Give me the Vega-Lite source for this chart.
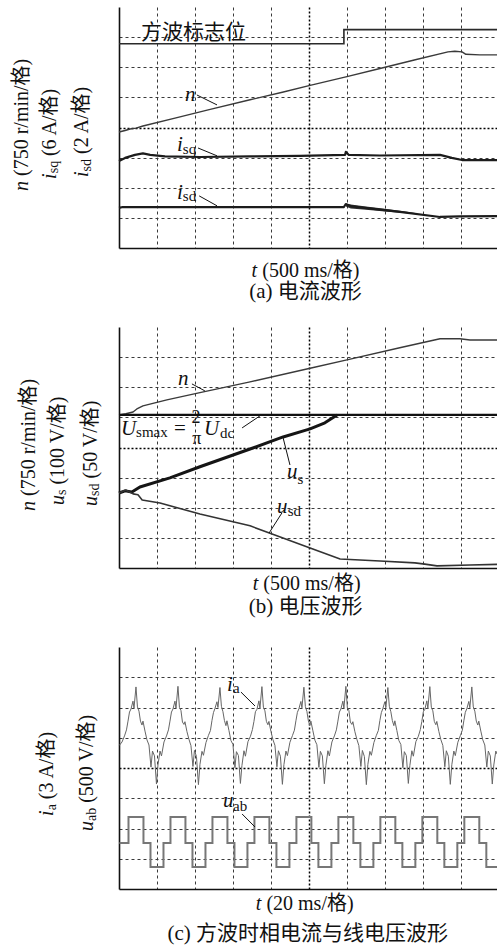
{
  "$schema": "https://vega.github.io/schema/vega-lite/v6.json",
  "padding": {"left": 12, "top": 7, "right": 0, "bottom": 0},
  "config": {"view": {"stroke": null}},
  "spacing": 79,
  "bounds": "flush",
  "datasets": {
    "p1": [
      {"k":"n1","x":0,"y":3.85},{"k":"n1","x":0.16,"y":3.9},{"k":"n1","x":0.29,"y":3.95},{"k":"n1","x":0.45,"y":3.98},{"k":"n1","x":0.63,"y":4.05},{"k":"n1","x":1.5,"y":4.32},{"k":"n1","x":2.4,"y":4.6},{"k":"n1","x":3.45,"y":4.92},{"k":"n1","x":4.3,"y":5.17},{"k":"n1","x":5.03,"y":5.4},{"k":"n1","x":6.0,"y":5.69},{"k":"n1","x":6.87,"y":5.96},{"k":"n1","x":7.8,"y":6.25},{"k":"n1","x":8.66,"y":6.51},{"k":"n1","x":8.84,"y":6.53},{"k":"n1","x":9.03,"y":6.51},{"k":"n1","x":9.13,"y":6.43},{"k":"n1","x":9.5,"y":6.41},{"k":"n1","x":9.95,"y":6.41},
      {"k":"isq","x":0,"y":2.89},{"k":"isq","x":0.16,"y":2.99},{"k":"isq","x":0.42,"y":3.09},{"k":"isq","x":0.63,"y":3.14},{"k":"isq","x":0.82,"y":3.09},{"k":"isq","x":1.21,"y":3.04},{"k":"isq","x":2.13,"y":3.02},{"k":"isq","x":3.45,"y":3.04},{"k":"isq","x":4.76,"y":3.06},{"k":"isq","x":5.95,"y":3.09},{"k":"isq","x":5.97,"y":3.19},{"k":"isq","x":6.05,"y":3.09},{"k":"isq","x":6.87,"y":3.07},{"k":"isq","x":8.45,"y":3.09},{"k":"isq","x":8.76,"y":2.99},{"k":"isq","x":9.03,"y":2.92},{"k":"isq","x":9.95,"y":2.92},
      {"k":"isd","x":0,"y":1.33},{"k":"isd","x":0.1,"y":1.36},{"k":"isd","x":2.13,"y":1.36},{"k":"isd","x":5.92,"y":1.36},{"k":"isd","x":5.97,"y":1.46},{"k":"isd","x":6.13,"y":1.38},{"k":"isd","x":7.39,"y":1.2},{"k":"isd","x":8.45,"y":1.03},{"k":"isd","x":8.97,"y":1.05},{"k":"isd","x":9.95,"y":1.06}
    ],
    "isdband": [
      {"x":5.97,"y":1.47,"y2":1.38},{"x":6.1,"y":1.44,"y2":1.31},{"x":6.5,"y":1.38,"y2":1.27},{"x":7.0,"y":1.3,"y2":1.21},{"x":7.5,"y":1.22,"y2":1.16},{"x":7.8,"y":1.16,"y2":1.13}
    ],
    "flag": [{"x":0,"y":6.78},{"x":5.92,"y":7.25},{"x":9.95,"y":7.25}],
    "p2": [
      {"k":"n2","x":0,"y":5.08},{"k":"n2","x":0.18,"y":5.12},{"k":"n2","x":0.37,"y":5.18},{"k":"n2","x":0.47,"y":5.28},{"k":"n2","x":0.63,"y":5.38},{"k":"n2","x":1.26,"y":5.58},{"k":"n2","x":2.13,"y":5.82},{"k":"n2","x":3.45,"y":6.18},{"k":"n2","x":5.03,"y":6.63},{"k":"n2","x":6.0,"y":6.91},{"k":"n2","x":7.39,"y":7.31},{"k":"n2","x":8.45,"y":7.61},{"k":"n2","x":8.97,"y":7.61},{"k":"n2","x":9.24,"y":7.57},{"k":"n2","x":9.95,"y":7.57},
      {"k":"usmax","x":0,"y":5.08},{"k":"usmax","x":9.95,"y":5.08},
      {"k":"us","x":0,"y":2.49},{"k":"us","x":0.16,"y":2.56},{"k":"us","x":0.34,"y":2.52},{"k":"us","x":0.55,"y":2.69},{"k":"us","x":1.34,"y":2.99},{"k":"us","x":2.13,"y":3.36},{"k":"us","x":3.45,"y":3.95},{"k":"us","x":4.32,"y":4.35},{"k":"us","x":5.03,"y":4.62},{"k":"us","x":5.42,"y":4.82},{"k":"us","x":5.74,"y":5.08},
      {"k":"usd","x":0,"y":2.49},{"k":"usd","x":0.18,"y":2.59},{"k":"usd","x":0.37,"y":2.46},{"k":"usd","x":0.5,"y":2.43},{"k":"usd","x":0.61,"y":2.26},{"k":"usd","x":1.08,"y":2.16},{"k":"usd","x":2.13,"y":1.79},{"k":"usd","x":3.45,"y":1.4},{"k":"usd","x":4.03,"y":1.13},{"k":"usd","x":5.03,"y":0.66},{"k":"usd","x":5.82,"y":0.3},{"k":"usd","x":6.87,"y":0.23},{"k":"usd","x":7.79,"y":0.17},{"k":"usd","x":8.05,"y":0.13},{"k":"usd","x":8.37,"y":0.07},{"k":"usd","x":9.24,"y":0.1},{"k":"usd","x":9.95,"y":0.12}
    ],
    "ia": [
      {"x":0.01,"y":4.75},{"x":0.079,"y":4.86},{"x":0.145,"y":5.06},{"x":0.197,"y":5.26},{"x":0.237,"y":5.55},{"x":0.276,"y":5.85},{"x":0.316,"y":5.95},{"x":0.368,"y":6.21},{"x":0.395,"y":5.98},
      {"x":0.447,"y":6.68},{"x":0.486,"y":6.02},{"x":0.526,"y":5.88},{"x":0.565,"y":5.55},{"x":0.605,"y":5.42},{"x":0.631,"y":5.55},{"x":0.684,"y":5.22},{"x":0.736,"y":4.93},{"x":0.789,"y":4.76},{"x":0.842,"y":4.03},{"x":0.881,"y":4.56},{"x":0.934,"y":4.4},{"x":0.986,"y":3.47},{"x":1.026,"y":4.1},{"x":1.079,"y":4.56},{"x":1.118,"y":4.4},{"x":1.184,"y":4.86},{"x":1.25,"y":5.06},{"x":1.302,"y":5.26},{"x":1.342,"y":5.55},{"x":1.381,"y":5.85},{"x":1.421,"y":5.95},{"x":1.473,"y":6.21},{"x":1.5,"y":5.98},
      {"x":1.552,"y":6.7},{"x":1.591,"y":6.0},{"x":1.631,"y":5.9},{"x":1.67,"y":5.52},{"x":1.71,"y":5.44},{"x":1.736,"y":5.53},{"x":1.789,"y":5.2},{"x":1.841,"y":4.95},{"x":1.894,"y":4.74},{"x":1.947,"y":4.05},{"x":1.986,"y":4.58},{"x":2.039,"y":4.38},{"x":2.091,"y":3.45},{"x":2.131,"y":4.12},{"x":2.184,"y":4.55},{"x":2.223,"y":4.42},{"x":2.289,"y":4.84},{"x":2.355,"y":5.08},{"x":2.407,"y":5.24},{"x":2.447,"y":5.57},{"x":2.486,"y":5.83},{"x":2.526,"y":5.97},{"x":2.578,"y":6.19},{"x":2.605,"y":6.0},
      {"x":2.657,"y":6.66},{"x":2.696,"y":6.04},{"x":2.736,"y":5.86},{"x":2.775,"y":5.57},{"x":2.815,"y":5.4},{"x":2.841,"y":5.56},{"x":2.894,"y":5.24},{"x":2.946,"y":4.91},{"x":2.999,"y":4.78},{"x":3.052,"y":4.01},{"x":3.091,"y":4.54},{"x":3.144,"y":4.41},{"x":3.196,"y":3.49},{"x":3.236,"y":4.08},{"x":3.289,"y":4.57},{"x":3.328,"y":4.39},{"x":3.394,"y":4.87},{"x":3.46,"y":5.05},{"x":3.512,"y":5.27},{"x":3.552,"y":5.54},{"x":3.591,"y":5.86},{"x":3.631,"y":5.94},{"x":3.683,"y":6.22},{"x":3.71,"y":5.97},
      {"x":3.762,"y":6.69},{"x":3.801,"y":6.01},{"x":3.841,"y":5.89},{"x":3.88,"y":5.54},{"x":3.92,"y":5.43},{"x":3.946,"y":5.54},{"x":3.999,"y":5.21},{"x":4.051,"y":4.94},{"x":4.104,"y":4.75},{"x":4.157,"y":4.04},{"x":4.196,"y":4.57},{"x":4.249,"y":4.39},{"x":4.301,"y":3.46},{"x":4.341,"y":4.11},{"x":4.394,"y":4.56},{"x":4.433,"y":4.41},{"x":4.499,"y":4.85},{"x":4.565,"y":5.07},{"x":4.617,"y":5.25},{"x":4.657,"y":5.56},{"x":4.696,"y":5.84},{"x":4.736,"y":5.96},{"x":4.788,"y":6.2},{"x":4.815,"y":5.99},
      {"x":4.867,"y":6.67},{"x":4.906,"y":6.03},{"x":4.946,"y":5.87},{"x":4.985,"y":5.56},{"x":5.025,"y":5.41},{"x":5.051,"y":5.55},{"x":5.104,"y":5.23},{"x":5.156,"y":4.92},{"x":5.209,"y":4.77},{"x":5.262,"y":4.02},{"x":5.301,"y":4.55},{"x":5.354,"y":4.4},{"x":5.406,"y":3.48},{"x":5.446,"y":4.09},{"x":5.499,"y":4.57},{"x":5.538,"y":4.4},{"x":5.604,"y":4.86},{"x":5.67,"y":5.06},{"x":5.722,"y":5.26},{"x":5.762,"y":5.55},{"x":5.801,"y":5.85},{"x":5.841,"y":5.95},{"x":5.893,"y":6.21},{"x":5.92,"y":5.98},
      {"x":5.972,"y":6.7},{"x":6.011,"y":6.0},{"x":6.051,"y":5.9},{"x":6.09,"y":5.52},{"x":6.13,"y":5.44},{"x":6.156,"y":5.53},{"x":6.209,"y":5.2},{"x":6.261,"y":4.95},{"x":6.314,"y":4.74},{"x":6.367,"y":4.05},{"x":6.406,"y":4.58},{"x":6.459,"y":4.38},{"x":6.511,"y":3.45},{"x":6.551,"y":4.12},{"x":6.604,"y":4.55},{"x":6.643,"y":4.42},{"x":6.709,"y":4.84},{"x":6.775,"y":5.08},{"x":6.827,"y":5.24},{"x":6.867,"y":5.57},{"x":6.906,"y":5.83},{"x":6.946,"y":5.97},{"x":6.998,"y":6.19},{"x":7.025,"y":6.0},
      {"x":7.077,"y":6.66},{"x":7.116,"y":6.04},{"x":7.156,"y":5.86},{"x":7.195,"y":5.57},{"x":7.235,"y":5.4},{"x":7.261,"y":5.56},{"x":7.314,"y":5.24},{"x":7.366,"y":4.91},{"x":7.419,"y":4.78},{"x":7.472,"y":4.01},{"x":7.511,"y":4.54},{"x":7.564,"y":4.41},{"x":7.616,"y":3.49},{"x":7.656,"y":4.08},{"x":7.709,"y":4.57},{"x":7.748,"y":4.39},{"x":7.814,"y":4.87},{"x":7.88,"y":5.05},{"x":7.932,"y":5.27},{"x":7.972,"y":5.54},{"x":8.011,"y":5.86},{"x":8.051,"y":5.94},{"x":8.103,"y":6.22},{"x":8.13,"y":5.97},
      {"x":8.182,"y":6.69},{"x":8.221,"y":6.01},{"x":8.261,"y":5.89},{"x":8.3,"y":5.54},{"x":8.34,"y":5.43},{"x":8.366,"y":5.54},{"x":8.419,"y":5.21},{"x":8.471,"y":4.94},{"x":8.524,"y":4.75},{"x":8.577,"y":4.04},{"x":8.616,"y":4.57},{"x":8.669,"y":4.39},{"x":8.721,"y":3.46},{"x":8.761,"y":4.11},{"x":8.814,"y":4.56},{"x":8.853,"y":4.41},{"x":8.919,"y":4.85},{"x":8.985,"y":5.07},{"x":9.037,"y":5.25},{"x":9.077,"y":5.56},{"x":9.116,"y":5.84},{"x":9.156,"y":5.96},{"x":9.208,"y":6.2},{"x":9.235,"y":5.99},
      {"x":9.287,"y":6.68},{"x":9.326,"y":6.02},{"x":9.366,"y":5.88},{"x":9.405,"y":5.55},{"x":9.445,"y":5.42},{"x":9.471,"y":5.55},{"x":9.524,"y":5.22},{"x":9.576,"y":4.93},{"x":9.629,"y":4.76},{"x":9.682,"y":4.03},{"x":9.721,"y":4.56},{"x":9.774,"y":4.4},{"x":9.826,"y":3.47},{"x":9.866,"y":4.1},{"x":9.919,"y":4.56},{"x":9.95,"y":4.46}
    ],
    "uab": [
      {"x":0.01,"y":1.52},
      {"x":0.25,"y":2.38},{"x":0.644,"y":1.52},{"x":0.829,"y":0.73},{"x":1.171,"y":1.52},
      {"x":1.355,"y":2.38},{"x":1.749,"y":1.52},{"x":1.934,"y":0.73},{"x":2.276,"y":1.52},
      {"x":2.46,"y":2.38},{"x":2.854,"y":1.52},{"x":3.039,"y":0.73},{"x":3.381,"y":1.52},
      {"x":3.565,"y":2.38},{"x":3.959,"y":1.52},{"x":4.144,"y":0.73},{"x":4.486,"y":1.52},
      {"x":4.67,"y":2.38},{"x":5.064,"y":1.52},{"x":5.249,"y":0.73},{"x":5.591,"y":1.52},
      {"x":5.775,"y":2.38},{"x":6.169,"y":1.52},{"x":6.354,"y":0.73},{"x":6.696,"y":1.52},
      {"x":6.88,"y":2.38},{"x":7.274,"y":1.52},{"x":7.459,"y":0.73},{"x":7.801,"y":1.52},
      {"x":7.985,"y":2.38},{"x":8.379,"y":1.52},{"x":8.564,"y":0.73},{"x":8.906,"y":1.52},
      {"x":9.09,"y":2.38},{"x":9.484,"y":1.52},{"x":9.669,"y":0.73},{"x":9.95,"y":0.73}
    ],
    "leaders": [
      {"p":1,"x":2.05,"y":5.08,"x2":2.58,"y2":4.75},
      {"p":1,"x":2.08,"y":3.32,"x2":2.58,"y2":3.06},
      {"p":1,"x":2.11,"y":1.73,"x2":2.58,"y2":1.4},
      {"p":2,"x":1.92,"y":6.11,"x2":2.26,"y2":5.88},
      {"p":2,"x":3.24,"y":4.65,"x2":3.71,"y2":5.05},
      {"p":2,"x":4.5,"y":3.42,"x2":4.32,"y2":4.32},
      {"p":2,"x":4.29,"y":1.83,"x2":3.95,"y2":1.16},
      {"p":3,"x":3.21,"y":6.51,"x2":3.58,"y2":6.05},
      {"p":3,"x":3.24,"y":2.48,"x2":3.58,"y2":2.05}
    ],
    "it": [
      {"p":1,"x":1.74,"y":4.88,"s":"n"},
      {"p":1,"x":1.53,"y":3.22,"s":"i"},
      {"p":1,"x":1.53,"y":1.63,"s":"i"},
      {"p":2,"x":1.55,"y":6.08,"s":"n"},
      {"p":2,"x":0.05,"y":4.42,"s":"U"},
      {"p":2,"x":2.24,"y":4.42,"s":"U"},
      {"p":2,"x":4.42,"y":2.99,"s":"u"},
      {"p":2,"x":4.16,"y":1.83,"s":"u"},
      {"p":3,"x":2.84,"y":6.55,"s":"i"},
      {"p":3,"x":2.74,"y":2.71,"s":"u"}
    ],
    "sub": [
      {"p":1,"x":1.68,"y":3.12,"s":"sq"},
      {"p":1,"x":1.68,"y":1.56,"s":"sd"},
      {"p":2,"x":0.45,"y":4.35,"s":"smax"},
      {"p":2,"x":2.66,"y":4.33,"s":"dc"},
      {"p":2,"x":4.7,"y":2.79,"s":"s"},
      {"p":2,"x":4.44,"y":1.73,"s":"sd"},
      {"p":3,"x":3.0,"y":6.48,"s":"a"},
      {"p":3,"x":3.0,"y":2.58,"s":"ab"}
    ],
    "rm": [
      {"p":1,"x":0.58,"y":6.93,"s":"方波标志位"},
      {"p":2,"x":1.45,"y":4.42,"s":"="}
    ],
    "frac": [
      {"p":2,"x":1.91,"y":4.82,"s":"2"},
      {"p":2,"x":1.93,"y":4.12,"s":"π"}
    ],
    "cap": [
      {"p":1,"x":4.91,"y":-1.45,"s":"(a) 电流波形"},
      {"p":2,"x":4.91,"y":-1.3,"s":"(b) 电压波形"},
      {"p":3,"x":4.97,"y":-1.49,"s":"(c) 方波时相电流与线电压波形"}
    ],
    "xit": [
      {"p":1,"x":3.49,"y":-0.76,"s":"t"},
      {"p":2,"x":3.52,"y":-0.52,"s":"t"},
      {"p":3,"x":3.6,"y":-0.5,"s":"t"}
    ],
    "xrm": [
      {"p":1,"x":3.77,"y":-0.76,"s":"(500 ms/格)"},
      {"p":2,"x":3.8,"y":-0.52,"s":"(500 ms/格)"},
      {"p":3,"x":3.88,"y":-0.5,"s":"(20 ms/格)"}
    ],
    "yit": [
      {"p":1,"x":-2.55,"y":1.89,"s":"n"},
      {"p":1,"x":-1.82,"y":2.29,"s":"i"},
      {"p":1,"x":-0.97,"y":2.36,"s":"i"},
      {"p":2,"x":-2.37,"y":1.89,"s":"n"},
      {"p":2,"x":-1.61,"y":2.09,"s":"u"},
      {"p":2,"x":-0.74,"y":2.06,"s":"u"},
      {"p":3,"x":-1.89,"y":2.41,"s":"i"},
      {"p":3,"x":-0.84,"y":1.92,"s":"u"}
    ],
    "ysub": [
      {"p":1,"x":-1.7,"y":2.48,"s":"sq"},
      {"p":1,"x":-0.85,"y":2.54,"s":"sd"},
      {"p":2,"x":-1.49,"y":2.42,"s":"s"},
      {"p":2,"x":-0.62,"y":2.39,"s":"sd"},
      {"p":3,"x":-1.77,"y":2.6,"s":"a"},
      {"p":3,"x":-0.72,"y":2.25,"s":"ab"}
    ],
    "yrm": [
      {"p":1,"x":-2.55,"y":2.39,"s":"(750 r/min/格)"},
      {"p":1,"x":-1.82,"y":3.05,"s":"(6 A/格)"},
      {"p":1,"x":-0.97,"y":3.12,"s":"(2 A/格)"},
      {"p":2,"x":-2.37,"y":2.39,"s":"(750 r/min/格)"},
      {"p":2,"x":-1.61,"y":2.77,"s":"(100 V/格)"},
      {"p":2,"x":-0.74,"y":2.97,"s":"(50 V/格)"},
      {"p":3,"x":-1.89,"y":2.97,"s":"(3 A/格)"},
      {"p":3,"x":-0.84,"y":2.85,"s":"(500 V/格)"}
    ]
  },
  "vconcat": [
    {
      "width": 378,
      "height": 241,
      "encoding": {
        "x": {"field":"x","type":"quantitative","scale":{"domain":[0,9.95],"nice":false,"zero":false},
          "axis":{"values":[1,2,3,4,5,6,7,8,9],"grid":true,"labels":false,"ticks":false,"title":null,"domainColor":"#111111","domainWidth":1.6,
            "gridColor":{"condition":{"test":"datum.value === 5","value":"#000000"},"value":"#3a3a3a"},
            "gridDash":{"condition":{"test":"datum.value === 5","value":[2,2]},"value":[3,3]},
            "gridWidth":{"condition":{"test":"datum.value === 5","value":1.5},"value":1}}},
        "y": {"field":"y","type":"quantitative","scale":{"domain":[0,8],"nice":false,"zero":false},
          "axis":{"values":[1,2,3,4,5,6,7],"grid":true,"labels":false,"ticks":false,"title":null,"domainColor":"#111111","domainWidth":1.6,
            "gridColor":{"condition":{"test":"datum.value === 4","value":"#000000"},"value":"#3a3a3a"},
            "gridDash":{"condition":{"test":"datum.value === 4","value":[2,2]},"value":[3,3]},
            "gridWidth":{"condition":{"test":"datum.value === 4","value":1.5},"value":1}}}
      },
      "layer": [
        {"data":{"values":[{}]},"mark":{"type":"rule","color":"#111111","strokeWidth":1.6},"encoding":{"x":{"datum":0},"x2":{"datum":9.95},"y":{"datum":8}}},
        {"data":{"name":"flag"},"mark":{"type":"line","interpolate":"step-after","color":"#2a2a2a","strokeWidth":1.6},"encoding":{}},
        {"data":{"name":"isdband"},"mark":{"type":"area","color":"#1c1c1c","opacity":0.9},"encoding":{"y2":{"field":"y2"}}},
        {"data":{"name":"p1"},"mark":{"type":"line","strokeJoin":"round"},"encoding":{
          "color":{"field":"k","type":"nominal","scale":{"domain":["n1","isq","isd","n2","usmax","us","usd"],"range":["#3a3a3a","#1c1c1c","#1c1c1c","#3a3a3a","#111111","#151515","#333333"]},"legend":null},
          "strokeWidth":{"field":"k","type":"nominal","scale":{"type":"ordinal","domain":["n1","isq","isd","n2","usmax","us","usd"],"range":[1.4,2.2,2.2,1.4,2.2,3.0,1.6]},"legend":null}}},
        {"data":{"name":"leaders"},"transform":[{"filter":"datum.p === 1"}],"mark":{"type":"rule","color":"#111111","strokeWidth":1},"encoding":{"x2":{"field":"x2"},"y2":{"field":"y2"}}},
        {"data":{"name":"it"},"transform":[{"filter":"datum.p === 1"}],"mark":{"type":"text","font":"Liberation Serif","fontStyle":"italic","fontSize":21,"align":"left","baseline":"alphabetic","color":"#111111"},"encoding":{"text":{"field":"s"}}},
        {"data":{"name":"sub"},"transform":[{"filter":"datum.p === 1"}],"mark":{"type":"text","font":"Liberation Serif","fontSize":15,"align":"left","baseline":"alphabetic","color":"#111111"},"encoding":{"text":{"field":"s"}}},
        {"data":{"name":"rm"},"transform":[{"filter":"datum.p === 1"}],"mark":{"type":"text","font":"Liberation Serif, Noto Sans CJK SC","fontSize":21,"align":"left","baseline":"alphabetic","color":"#111111"},"encoding":{"text":{"field":"s"}}},
        {"data":{"name":"cap"},"transform":[{"filter":"datum.p === 1"}],"mark":{"type":"text","font":"Liberation Serif, Noto Sans CJK SC","fontSize":21,"align":"center","baseline":"middle","color":"#111111"},"encoding":{"text":{"field":"s"}}},
        {"data":{"name":"xit"},"transform":[{"filter":"datum.p === 1"}],"mark":{"type":"text","font":"Liberation Serif","fontStyle":"italic","fontSize":20,"align":"left","baseline":"middle","color":"#111111"},"encoding":{"text":{"field":"s"}}},
        {"data":{"name":"xrm"},"transform":[{"filter":"datum.p === 1"}],"mark":{"type":"text","font":"Liberation Serif, Noto Sans CJK SC","fontSize":20,"align":"left","baseline":"middle","color":"#111111"},"encoding":{"text":{"field":"s"}}},
        {"data":{"name":"yit"},"transform":[{"filter":"datum.p === 1"}],"mark":{"type":"text","font":"Liberation Serif","fontStyle":"italic","fontSize":20,"angle":270,"align":"left","baseline":"middle","color":"#111111"},"encoding":{"text":{"field":"s"}}},
        {"data":{"name":"ysub"},"transform":[{"filter":"datum.p === 1"}],"mark":{"type":"text","font":"Liberation Serif","fontSize":14,"angle":270,"align":"left","baseline":"middle","color":"#111111"},"encoding":{"text":{"field":"s"}}},
        {"data":{"name":"yrm"},"transform":[{"filter":"datum.p === 1"}],"mark":{"type":"text","font":"Liberation Serif, Noto Sans CJK SC","fontSize":20,"angle":270,"align":"left","baseline":"middle","color":"#111111"},"encoding":{"text":{"field":"s"}}}
      ]
    },
    {
      "width": 378,
      "height": 241,
      "encoding": {
        "x": {"field":"x","type":"quantitative","scale":{"domain":[0,9.95],"nice":false,"zero":false},
          "axis":{"values":[1,2,3,4,5,6,7,8,9],"grid":true,"labels":false,"ticks":false,"title":null,"domainColor":"#111111","domainWidth":1.6,
            "gridColor":{"condition":{"test":"datum.value === 5","value":"#000000"},"value":"#3a3a3a"},
            "gridDash":{"condition":{"test":"datum.value === 5","value":[2,2]},"value":[3,3]},
            "gridWidth":{"condition":{"test":"datum.value === 5","value":1.5},"value":1}}},
        "y": {"field":"y","type":"quantitative","scale":{"domain":[0,8],"nice":false,"zero":false},
          "axis":{"values":[1,2,3,4,5,6,7],"grid":true,"labels":false,"ticks":false,"title":null,"domainColor":"#111111","domainWidth":1.6,
            "gridColor":{"condition":{"test":"datum.value === 4","value":"#000000"},"value":"#3a3a3a"},
            "gridDash":{"condition":{"test":"datum.value === 4","value":[2,2]},"value":[3,3]},
            "gridWidth":{"condition":{"test":"datum.value === 4","value":1.5},"value":1}}}
      },
      "layer": [
        {"data":{"values":[{}]},"mark":{"type":"rule","color":"#111111","strokeWidth":1.6},"encoding":{"x":{"datum":0},"x2":{"datum":9.95},"y":{"datum":8}}},
        {"data":{"name":"p2"},"mark":{"type":"line","strokeJoin":"round"},"encoding":{
          "color":{"field":"k","type":"nominal","scale":{"domain":["n1","isq","isd","n2","usmax","us","usd"],"range":["#3a3a3a","#1c1c1c","#1c1c1c","#3a3a3a","#111111","#151515","#333333"]},"legend":null},
          "strokeWidth":{"field":"k","type":"nominal","scale":{"type":"ordinal","domain":["n1","isq","isd","n2","usmax","us","usd"],"range":[1.4,2.2,2.2,1.4,2.2,3.0,1.6]},"legend":null}}},
        {"data":{"name":"leaders"},"transform":[{"filter":"datum.p === 2"}],"mark":{"type":"rule","color":"#111111","strokeWidth":1},"encoding":{"x2":{"field":"x2"},"y2":{"field":"y2"}}},
        {"data":{"name":"it"},"transform":[{"filter":"datum.p === 2"}],"mark":{"type":"text","font":"Liberation Serif","fontStyle":"italic","fontSize":21,"align":"left","baseline":"alphabetic","color":"#111111"},"encoding":{"text":{"field":"s"}}},
        {"data":{"name":"sub"},"transform":[{"filter":"datum.p === 2"}],"mark":{"type":"text","font":"Liberation Serif","fontSize":15,"align":"left","baseline":"alphabetic","color":"#111111"},"encoding":{"text":{"field":"s"}}},
        {"data":{"name":"rm"},"transform":[{"filter":"datum.p === 2"}],"mark":{"type":"text","font":"Liberation Serif, Noto Sans CJK SC","fontSize":21,"align":"left","baseline":"alphabetic","color":"#111111"},"encoding":{"text":{"field":"s"}}},
        {"data":{"name":"frac"},"transform":[{"filter":"datum.p === 2"}],"mark":{"type":"text","font":"Liberation Serif","fontSize":18,"align":"left","baseline":"alphabetic","color":"#111111"},"encoding":{"text":{"field":"s"}}},
        {"data":{"name":"cap"},"transform":[{"filter":"datum.p === 2"}],"mark":{"type":"text","font":"Liberation Serif, Noto Sans CJK SC","fontSize":21,"align":"center","baseline":"middle","color":"#111111"},"encoding":{"text":{"field":"s"}}},
        {"data":{"name":"xit"},"transform":[{"filter":"datum.p === 2"}],"mark":{"type":"text","font":"Liberation Serif","fontStyle":"italic","fontSize":20,"align":"left","baseline":"middle","color":"#111111"},"encoding":{"text":{"field":"s"}}},
        {"data":{"name":"xrm"},"transform":[{"filter":"datum.p === 2"}],"mark":{"type":"text","font":"Liberation Serif, Noto Sans CJK SC","fontSize":20,"align":"left","baseline":"middle","color":"#111111"},"encoding":{"text":{"field":"s"}}},
        {"data":{"name":"yit"},"transform":[{"filter":"datum.p === 2"}],"mark":{"type":"text","font":"Liberation Serif","fontStyle":"italic","fontSize":20,"angle":270,"align":"left","baseline":"middle","color":"#111111"},"encoding":{"text":{"field":"s"}}},
        {"data":{"name":"ysub"},"transform":[{"filter":"datum.p === 2"}],"mark":{"type":"text","font":"Liberation Serif","fontSize":14,"angle":270,"align":"left","baseline":"middle","color":"#111111"},"encoding":{"text":{"field":"s"}}},
        {"data":{"name":"yrm"},"transform":[{"filter":"datum.p === 2"}],"mark":{"type":"text","font":"Liberation Serif, Noto Sans CJK SC","fontSize":20,"angle":270,"align":"left","baseline":"middle","color":"#111111"},"encoding":{"text":{"field":"s"}}}
      ]
    },
    {
      "width": 378,
      "height": 242,
      "encoding": {
        "x": {"field":"x","type":"quantitative","scale":{"domain":[0,9.95],"nice":false,"zero":false},
          "axis":{"values":[1,2,3,4,5,6,7,8,9],"grid":true,"labels":false,"ticks":false,"title":null,"domainColor":"#111111","domainWidth":1.6,
            "gridColor":{"condition":{"test":"datum.value === 5","value":"#000000"},"value":"#3a3a3a"},
            "gridDash":{"condition":{"test":"datum.value === 5","value":[2,2]},"value":[3,3]},
            "gridWidth":{"condition":{"test":"datum.value === 5","value":1.5},"value":1}}},
        "y": {"field":"y","type":"quantitative","scale":{"domain":[0,8],"nice":false,"zero":false},
          "axis":{"values":[1,2,3,4,5,6,7],"grid":true,"labels":false,"ticks":false,"title":null,"domainColor":"#111111","domainWidth":1.6,
            "gridColor":{"condition":{"test":"datum.value === 4","value":"#000000"},"value":"#3a3a3a"},
            "gridDash":{"condition":{"test":"datum.value === 4","value":[2,2]},"value":[3,3]},
            "gridWidth":{"condition":{"test":"datum.value === 4","value":1.5},"value":1}}}
      },
      "layer": [
        {"data":{"values":[{}]},"mark":{"type":"rule","color":"#111111","strokeWidth":1.6},"encoding":{"x":{"datum":0},"x2":{"datum":9.95},"y":{"datum":8}}},
        {"data":{"name":"ia"},"mark":{"type":"line","color":"#666666","strokeWidth":1,"strokeJoin":"round"},"encoding":{}},
        {"data":{"name":"uab"},"mark":{"type":"line","interpolate":"step-after","color":"#777777","strokeWidth":2},"encoding":{}},
        {"data":{"name":"leaders"},"transform":[{"filter":"datum.p === 3"}],"mark":{"type":"rule","color":"#111111","strokeWidth":1},"encoding":{"x2":{"field":"x2"},"y2":{"field":"y2"}}},
        {"data":{"name":"it"},"transform":[{"filter":"datum.p === 3"}],"mark":{"type":"text","font":"Liberation Serif","fontStyle":"italic","fontSize":21,"align":"left","baseline":"alphabetic","color":"#111111"},"encoding":{"text":{"field":"s"}}},
        {"data":{"name":"sub"},"transform":[{"filter":"datum.p === 3"}],"mark":{"type":"text","font":"Liberation Serif","fontSize":15,"align":"left","baseline":"alphabetic","color":"#111111"},"encoding":{"text":{"field":"s"}}},
        {"data":{"name":"cap"},"transform":[{"filter":"datum.p === 3"}],"mark":{"type":"text","font":"Liberation Serif, Noto Sans CJK SC","fontSize":21,"align":"center","baseline":"middle","color":"#111111"},"encoding":{"text":{"field":"s"}}},
        {"data":{"name":"xit"},"transform":[{"filter":"datum.p === 3"}],"mark":{"type":"text","font":"Liberation Serif","fontStyle":"italic","fontSize":20,"align":"left","baseline":"middle","color":"#111111"},"encoding":{"text":{"field":"s"}}},
        {"data":{"name":"xrm"},"transform":[{"filter":"datum.p === 3"}],"mark":{"type":"text","font":"Liberation Serif, Noto Sans CJK SC","fontSize":20,"align":"left","baseline":"middle","color":"#111111"},"encoding":{"text":{"field":"s"}}},
        {"data":{"name":"yit"},"transform":[{"filter":"datum.p === 3"}],"mark":{"type":"text","font":"Liberation Serif","fontStyle":"italic","fontSize":20,"angle":270,"align":"left","baseline":"middle","color":"#111111"},"encoding":{"text":{"field":"s"}}},
        {"data":{"name":"ysub"},"transform":[{"filter":"datum.p === 3"}],"mark":{"type":"text","font":"Liberation Serif","fontSize":14,"angle":270,"align":"left","baseline":"middle","color":"#111111"},"encoding":{"text":{"field":"s"}}},
        {"data":{"name":"yrm"},"transform":[{"filter":"datum.p === 3"}],"mark":{"type":"text","font":"Liberation Serif, Noto Sans CJK SC","fontSize":20,"angle":270,"align":"left","baseline":"middle","color":"#111111"},"encoding":{"text":{"field":"s"}}}
      ]
    }
  ]
}
